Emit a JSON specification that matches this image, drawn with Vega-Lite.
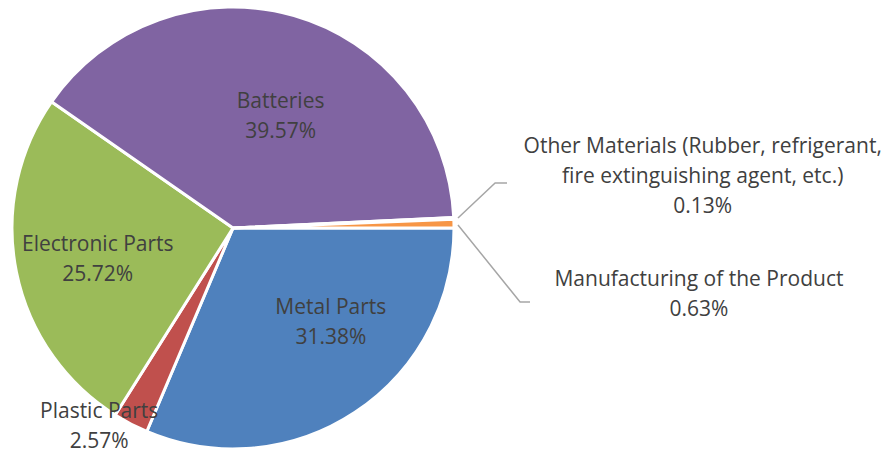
{
  "$schema": "https://vega.github.io/schema/vega-lite/v6.json",
  "autosize": "none",
  "padding": {"left": 12, "top": 7, "right": 437, "bottom": 4},
  "width": 442,
  "height": 442,
  "background": "white",
  "config": {"view": {"stroke": null}},
  "datasets": {
    "shares": [
      {"category": "Metal Parts", "share": 31.38, "rank": 1},
      {"category": "Plastic Parts", "share": 2.57, "rank": 2},
      {"category": "Electronic Parts", "share": 25.72, "rank": 3},
      {"category": "Batteries", "share": 39.57, "rank": 4},
      {"category": "Other Materials (Rubber, refrigerant, fire extinguishing agent, etc.)", "share": 0.13, "rank": 5},
      {"category": "Manufacturing of the Product", "share": 0.63, "rank": 6}
    ],
    "leaders": [
      {"seg": "Other", "pt": 1, "u": 1.018, "v": 0.045},
      {"seg": "Other", "pt": 2, "u": 1.186, "v": 0.204},
      {"seg": "Other", "pt": 3, "u": 1.240, "v": 0.204},
      {"seg": "Manufacturing", "pt": 1, "u": 1.018, "v": 0.014},
      {"seg": "Manufacturing", "pt": 2, "u": 1.299, "v": -0.335},
      {"seg": "Manufacturing", "pt": 3, "u": 1.344, "v": -0.335}
    ]
  },
  "layer": [
    {
      "data": {"name": "shares"},
      "mark": {"type": "arc", "stroke": "white", "strokeWidth": 3},
      "encoding": {
        "theta": {"field": "share", "type": "quantitative", "stack": true, "scale": {"range": [1.5707963, 7.8539816]}},
        "color": {
          "field": "category", "type": "nominal", "legend": null,
          "scale": {
            "domain": ["Metal Parts", "Plastic Parts", "Electronic Parts", "Batteries", "Other Materials (Rubber, refrigerant, fire extinguishing agent, etc.)", "Manufacturing of the Product"],
            "range": ["#4F81BD", "#C0504D", "#9BBB59", "#8064A2", "#4BACC6", "#F79646"]
          }
        },
        "order": {"field": "rank", "type": "quantitative"}
      }
    },
    {
      "data": {"name": "shares"},
      "transform": [{"calculate": "replace(datum.category, 'refrigerant, ', 'refrigerant,\\n') + '\\n' + format(datum.share, '.2f') + '%'", "as": "label"}],
      "mark": {"type": "text", "radius": 112, "dx": 36, "dy": -13, "font": "Open Sans", "fontSize": 21, "lineHeight": 30, "lineBreak": "\n", "color": "#404040", "align": "center", "baseline": "middle"},
      "encoding": {
        "theta": {"field": "share", "type": "quantitative", "stack": true},
        "detail": {"field": "category", "type": "nominal"},
        "order": {"field": "rank", "type": "quantitative"},
        "text": {"condition": {"test": "datum.category === 'Metal Parts'", "field": "label"}, "value": ""}
      }
    },
    {
      "data": {"name": "shares"},
      "transform": [{"calculate": "replace(datum.category, 'refrigerant, ', 'refrigerant,\\n') + '\\n' + format(datum.share, '.2f') + '%'", "as": "label"}],
      "mark": {"type": "text", "radius": 222, "dx": -31, "dy": -13, "font": "Open Sans", "fontSize": 21, "lineHeight": 30, "lineBreak": "\n", "color": "#404040", "align": "center", "baseline": "middle"},
      "encoding": {
        "theta": {"field": "share", "type": "quantitative", "stack": true},
        "detail": {"field": "category", "type": "nominal"},
        "order": {"field": "rank", "type": "quantitative"},
        "text": {"condition": {"test": "datum.category === 'Plastic Parts'", "field": "label"}, "value": ""}
      }
    },
    {
      "data": {"name": "shares"},
      "transform": [{"calculate": "replace(datum.category, 'refrigerant, ', 'refrigerant,\\n') + '\\n' + format(datum.share, '.2f') + '%'", "as": "label"}],
      "mark": {"type": "text", "radius": 138, "dy": -10, "font": "Open Sans", "fontSize": 21, "lineHeight": 30, "lineBreak": "\n", "color": "#404040", "align": "center", "baseline": "middle"},
      "encoding": {
        "theta": {"field": "share", "type": "quantitative", "stack": true},
        "detail": {"field": "category", "type": "nominal"},
        "order": {"field": "rank", "type": "quantitative"},
        "text": {"condition": {"test": "datum.category === 'Electronic Parts'", "field": "label"}, "value": ""}
      }
    },
    {
      "data": {"name": "shares"},
      "transform": [{"calculate": "replace(datum.category, 'refrigerant, ', 'refrigerant,\\n') + '\\n' + format(datum.share, '.2f') + '%'", "as": "label"}],
      "mark": {"type": "text", "radius": 118, "dx": 15, "dy": -13, "font": "Open Sans", "fontSize": 21, "lineHeight": 30, "lineBreak": "\n", "color": "#404040", "align": "center", "baseline": "middle"},
      "encoding": {
        "theta": {"field": "share", "type": "quantitative", "stack": true},
        "detail": {"field": "category", "type": "nominal"},
        "order": {"field": "rank", "type": "quantitative"},
        "text": {"condition": {"test": "datum.category === 'Batteries'", "field": "label"}, "value": ""}
      }
    },
    {
      "data": {"name": "shares"},
      "transform": [{"calculate": "replace(datum.category, 'refrigerant, ', 'refrigerant,\\n') + '\\n' + format(datum.share, '.2f') + '%'", "as": "label"}],
      "mark": {"type": "text", "radius": 300, "dx": 170, "dy": -68, "font": "Open Sans", "fontSize": 21, "lineHeight": 30, "lineBreak": "\n", "color": "#404040", "align": "center", "baseline": "middle"},
      "encoding": {
        "theta": {"field": "share", "type": "quantitative", "stack": true},
        "detail": {"field": "category", "type": "nominal"},
        "order": {"field": "rank", "type": "quantitative"},
        "text": {"condition": {"test": "datum.rank === 5", "field": "label"}, "value": ""}
      }
    },
    {
      "data": {"name": "shares"},
      "transform": [{"calculate": "replace(datum.category, 'refrigerant, ', 'refrigerant,\\n') + '\\n' + format(datum.share, '.2f') + '%'", "as": "label"}],
      "mark": {"type": "text", "radius": 300, "dx": 166, "dy": 58, "font": "Open Sans", "fontSize": 21, "lineHeight": 30, "lineBreak": "\n", "color": "#404040", "align": "center", "baseline": "middle"},
      "encoding": {
        "theta": {"field": "share", "type": "quantitative", "stack": true},
        "detail": {"field": "category", "type": "nominal"},
        "order": {"field": "rank", "type": "quantitative"},
        "text": {"condition": {"test": "datum.category === 'Manufacturing of the Product'", "field": "label"}, "value": ""}
      }
    },
    {
      "data": {"name": "leaders"},
      "mark": {"type": "line", "color": "#A6A6A6", "strokeWidth": 1.5, "clip": false},
      "encoding": {
        "x": {"field": "u", "type": "quantitative", "axis": null, "scale": {"domain": [-1, 1], "nice": false, "zero": false}},
        "y": {"field": "v", "type": "quantitative", "axis": null, "scale": {"domain": [-1, 1], "nice": false, "zero": false}},
        "detail": {"field": "seg", "type": "nominal"},
        "order": {"field": "pt", "type": "quantitative"}
      }
    }
  ]
}
